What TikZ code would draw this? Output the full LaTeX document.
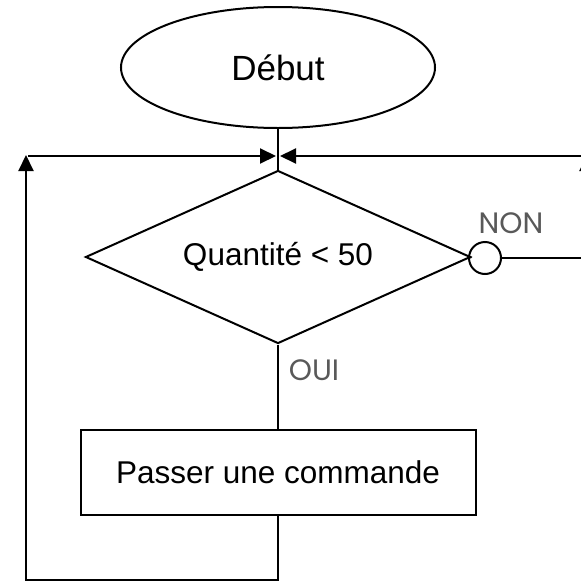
\documentclass[tikz,border=0pt]{standalone}
\usepackage{fontspec}
\setmainfont{Liberation Sans}
\newfontfamily\labfont{Poppins}
\usetikzlibrary{shapes.geometric,arrows.meta}
\definecolor{labgray}{HTML}{595959}
\begin{document}
\begin{tikzpicture}[x=1pt,y=-1pt,
  shapebox/.style={draw=black,line width=2pt,inner sep=0pt},
  conn/.style={draw=black,line width=2pt,-{Triangle[length=16pt,width=15pt]}},
  plain/.style={draw=black,line width=2pt},
  lab/.style={text=labgray,font=\labfont\fontsize{29.5}{34}\selectfont,inner sep=0pt}]
\useasboundingbox (0,0) rectangle (581,581);
\node[shapebox,ellipse,minimum width=314pt,minimum height=121pt,font=\fontsize{35}{40}\selectfont] (start) at (278,67.5) {Début};
\node[shapebox,diamond,aspect=2.225,minimum width=385pt,minimum height=173pt,font=\fontsize{31.5}{36}\selectfont] (test) at (278,257) {Quantité < 50};
\node[shapebox,circle,minimum size=32pt] (knot) at (485,258) {};
\node[shapebox,rectangle,minimum width=395pt,minimum height=85pt,font=\fontsize{31.5}{36}\selectfont] (order) at (278,472.5) {Passer une commande};
\node[lab] (non) at (511,223) {NON};
\node[lab] (oui) at (314,370) {OUI};
\coordinate (jl) at (276,156);
\coordinate (jr) at (280,156);
\coordinate (bl) at (278,580);
\coordinate (bll) at (26,580);
\coordinate (tl) at (26,155);
\coordinate (hl) at (28,156);
\coordinate (rr) at (587,258);
\coordinate (tr) at (587,155);
\coordinate (hr) at (585,156);
% main vertical
\draw[plain] (start.south) -- (test.north);
\draw[plain] (test.south) -- (order.north);
\draw[plain] (test.east) -- (knot.west);
% left loop
\draw[conn] (order.south) -- (bl) -- (bll) -- (tl);
\draw[conn] (hl) -- (jl);
% right loop
\draw[conn] (knot.east) -- (rr) -- (tr);
\draw[conn] (hr) -- (jr);
\end{tikzpicture}
\end{document}
